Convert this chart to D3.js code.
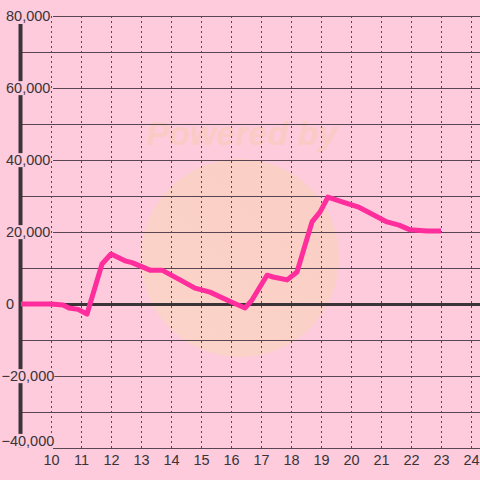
<!DOCTYPE html>
<html>
<head>
<meta charset="utf-8">
<script src="https://cdn.jsdelivr.net/npm/d3@7"></script>
<style>
  body { margin: 0; background: #fdcbdb; }
  svg { display: block; }
</style>
</head>
<body>
<svg class="chart"></svg>
<script>
const width = 480;
const height = 480;

// hour of day -> value
const hours = [9, 10, 10.4, 10.6, 10.9, 11.2, 11.7, 12.0, 12.5, 12.7, 13.3, 13.7, 14.3, 14.8, 15.3, 15.97,
    16.47, 16.7, 17.2, 17.4, 17.87, 18.2, 18.7, 18.97, 19.23, 19.73, 20.23, 20.63, 21.2, 21.6, 21.97, 22.53, 23.0];
const values = [0, 0, -300, -1100, -1500, -2800, 11100, 13900, 11900, 11500, 9400, 9400, 6700, 4400, 3300, 700,
    -1100, 1100, 8000, 7500, 6700, 8900, 22800, 25600, 29700, 28300, 27000, 25300, 22800, 21900, 20600, 20300, 20300];

const majorTicks = [-40000, -20000, 0, 20000, 40000, 60000, 80000];
const minorTicks = [-30000, -10000, 10000, 30000, 50000, 70000];
const hourTicks = [10, 11, 12, 13, 14, 15, 16, 17, 18, 19, 20, 21, 22, 23, 24];

const bg = '#fdcbdb';
const ink = '#3a3338';
const gridColor = '#5a4552';

const x = d3.scaleLinear().domain([10, 24]).range([51, 471]);
const y = d3.scaleLinear().domain([-40000, 80000]).range([448, 16]);

const svg = d3.select('svg.chart')
    .attr('width', width)
    .attr('height', height)
    .style('font-family', '"Liberation Sans", Arial, sans-serif');

svg.append('rect').attr('width', width).attr('height', height).attr('fill', bg);

// faint watermark
const defs = svg.append('defs');
const grad = defs.append('linearGradient').attr('id', 'wm')
    .attr('x1', '0%').attr('y1', '100%').attr('x2', '100%').attr('y2', '0%');
grad.append('stop').attr('offset', '0%').attr('stop-color', '#fcd6c4');
grad.append('stop').attr('offset', '100%').attr('stop-color', '#f8cfc0');
svg.append('circle')
    .attr('cx', 240).attr('cy', 258).attr('r', 99)
    .attr('fill', 'url(#wm)').attr('opacity', 0.8);
svg.append('text')
    .attr('x', 242).attr('y', 145)
    .attr('text-anchor', 'middle')
    .attr('font-size', 34).attr('font-weight', 'bold').attr('font-style', 'italic')
    .attr('fill', '#f9cbc4')
    .text('Powered by');

// minor horizontal grid
svg.append('g').selectAll('line')
    .data(minorTicks)
    .join('line')
    .attr('x1', 21).attr('x2', width)
    .attr('y1', d => y(d) + 0.5).attr('y2', d => y(d) + 0.5)
    .attr('stroke', gridColor).attr('stroke-width', 1);

// major horizontal grid
svg.append('g').selectAll('line')
    .data(majorTicks.filter(d => d !== 0))
    .join('line')
    .attr('x1', 53).attr('x2', width)
    .attr('y1', d => y(d) + 0.5).attr('y2', d => y(d) + 0.5)
    .attr('stroke', gridColor).attr('stroke-width', 1);

// vertical dotted grid
svg.append('g').selectAll('line')
    .data(hourTicks)
    .join('line')
    .attr('x1', d => x(d) + 0.5).attr('x2', d => x(d) + 0.5)
    .attr('y1', y(80000)).attr('y2', y(-40000))
    .attr('stroke', gridColor).attr('stroke-width', 1)
    .attr('stroke-dasharray', '2,3');

// y axis line
svg.append('line')
    .attr('x1', 20.5).attr('x2', 20.5)
    .attr('y1', y(80000) + 8).attr('y2', y(-40000))
    .attr('stroke', ink).attr('stroke-width', 4);

// zero line
svg.append('line')
    .attr('x1', 20).attr('x2', width)
    .attr('y1', y(0) + 0.5).attr('y2', y(0) + 0.5)
    .attr('stroke', ink).attr('stroke-width', 3);

// y axis labels, left aligned
const yAxis = svg.append('g')
    .call(d3.axisLeft(y).tickValues(majorTicks).tickSize(0).tickPadding(0).tickFormat(d3.format(',')));
yAxis.select('.domain').remove();
yAxis.selectAll('text')
    .attr('font-size', 14.5)
    .attr('font-family', '"Liberation Sans", Arial, sans-serif')
    .attr('fill', ink)
    .attr('text-anchor', 'start')
    .attr('x', d => d < 0 ? 1.5 : 6)
    .attr('dy', d => d === -40000 ? '-0.18em' : '0.32em');
yAxis.selectAll('.tick').each(function () {
    const t = d3.select(this).select('text');
    const b = t.node().getBBox();
    d3.select(this).insert('rect', 'text')
        .attr('x', b.x - 1).attr('y', b.y + 1)
        .attr('width', b.width + 1).attr('height', b.height - 2)
        .attr('fill', bg);
});

// x axis
const xAxis = svg.append('g')
    .attr('transform', `translate(0,${y(-40000)})`)
    .call(d3.axisBottom(x).tickValues(hourTicks).tickSize(0).tickPadding(7).tickFormat(d3.format('d')));
xAxis.select('.domain')
    .attr('d', `M53,0.5H${width}`)
    .attr('stroke', gridColor);
xAxis.selectAll('text')
    .attr('font-size', 14.5)
    .attr('font-family', '"Liberation Sans", Arial, sans-serif')
    .attr('fill', ink);

// series line
const points = hours.map((h, i) => [h, values[i]]);
svg.append('path')
    .datum(points)
    .attr('fill', 'none')
    .attr('stroke', '#ff2e9c')
    .attr('stroke-width', 5)
    .attr('stroke-linejoin', 'round')
    .attr('d', d3.line().x(d => x(d[0])).y(d => y(d[1])));
</script>
</body>
</html>
